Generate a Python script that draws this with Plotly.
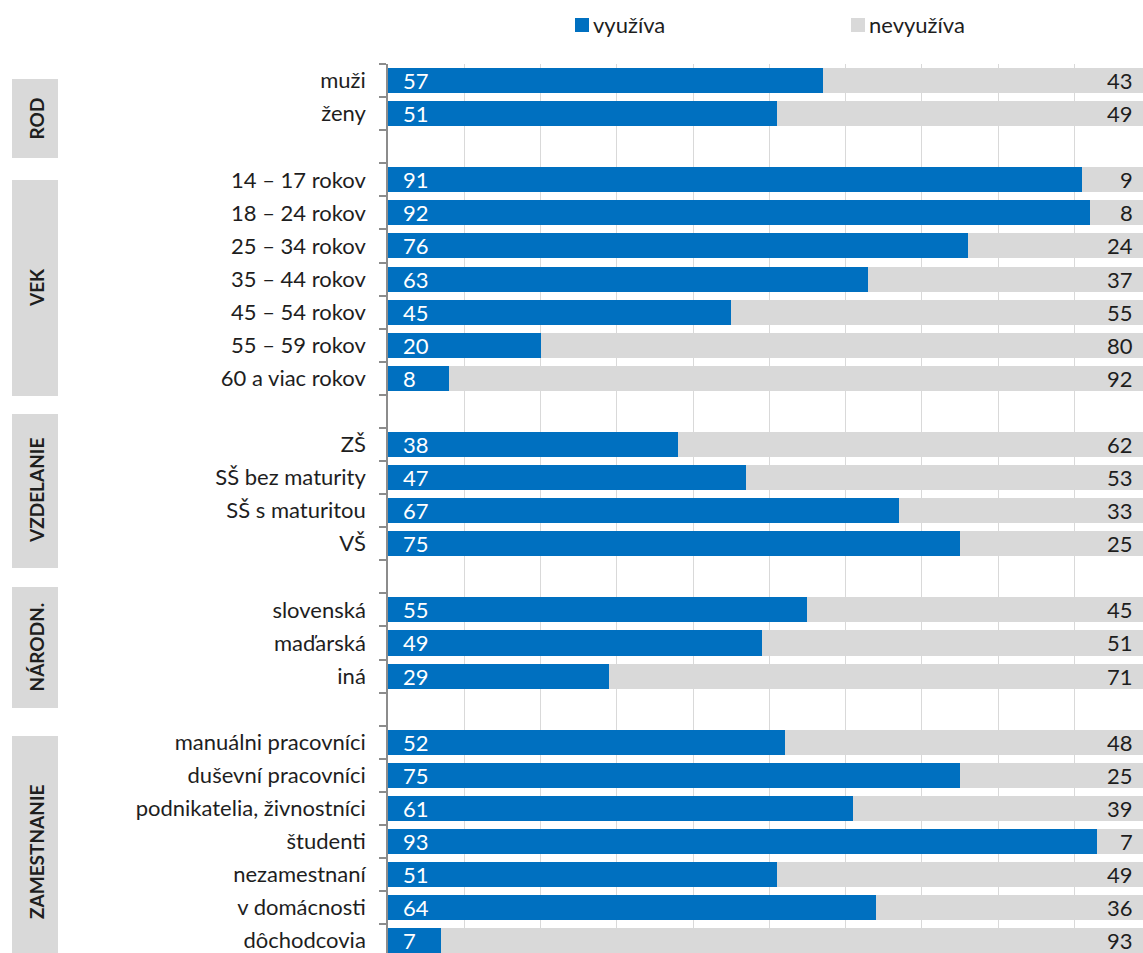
import plotly.graph_objects as go

# ---------------- data ----------------
categories = [
    "muži", "ženy", None,
    "14 – 17 rokov", "18 – 24 rokov", "25 – 34 rokov", "35 – 44 rokov",
    "45 – 54 rokov", "55 – 59 rokov", "60 a viac rokov", None,
    "ZŠ", "SŠ bez maturity", "SŠ s maturitou", "VŠ", None,
    "slovenská", "maďarská", "iná", None,
    "manuálni pracovníci", "duševní pracovníci", "podnikatelia, živnostníci",
    "študenti", "nezamestnaní", "v domácnosti", "dôchodcovia",
]
vyuziva = [57, 51, None, 91, 92, 76, 63, 45, 20, 8, None, 38, 47, 67, 75, None,
           55, 49, 29, None, 52, 75, 61, 93, 51, 64, 7]
nevyuziva = [43, 49, None, 9, 8, 24, 37, 55, 80, 92, None, 62, 53, 33, 25, None,
             45, 51, 71, None, 48, 25, 39, 7, 49, 36, 93]
series_names = ["využíva", "nevyužíva"]
groups = ["ROD", "VEK", "VZDELANIE", "NÁRODN.", "ZAMESTNANIE"]

BLUE = "#0070C0"
GRAY = "#D9D9D9"
TXT = "#1e1e1e"
FONT = "Lato"

W, H = 1143, 953
ML, MT = 388, 64


def px_x(px):
    return (px - ML) / (W - ML)


def px_y(py):
    return 1 - (py - MT) / (H - MT)


rows = list(range(len(categories)))
label_rows = [r for r, c in zip(rows, categories) if c is not None]
label_text = [c for c in categories if c is not None]
boundaries = [r - 0.5 for r in rows] + [rows[-1] + 0.5]

fig = go.Figure()
fig.add_trace(go.Bar(y=rows, x=vyuziva, orientation="h", name=series_names[0],
                     marker=dict(color=BLUE, line=dict(width=0)), showlegend=False,
                     hovertext=categories, hoverinfo="x+text"))
fig.add_trace(go.Bar(y=rows, x=nevyuziva, orientation="h", name=series_names[1],
                     marker=dict(color=GRAY, line=dict(width=0)), showlegend=False,
                     hovertext=categories, hoverinfo="x+text"))

annotations = []
for r, v, n in zip(rows, vyuziva, nevyuziva):
    if v is None:
        continue
    annotations.append(dict(x=0, y=r, xref="x", yref="y", text=str(v),
                            xanchor="left", yanchor="middle", xshift=13, showarrow=False,
                            font=dict(family=FONT, size=22, color="white")))
    annotations.append(dict(x=1, y=r, xref="paper", yref="y", text=str(n),
                            xanchor="right", yanchor="middle", xshift=-8, showarrow=False,
                            font=dict(family=FONT, size=22, color=TXT)))

# group boxes (pixel extents in page)
box_px = [(79, 158), (180, 396), (414, 568), (587, 708), (736, 968)]
shapes = []
for g, (y0, y1) in zip(groups, box_px):
    shapes.append(dict(type="rect", xref="paper", yref="paper",
                       x0=px_x(12), x1=px_x(58), y0=px_y(y1), y1=px_y(y0),
                       fillcolor=GRAY, line=dict(width=0), layer="below"))
    annotations.append(dict(x=px_x(36), y=px_y((y0 + y1) / 2), xref="paper", yref="paper",
                            text="<b>%s</b>" % g, textangle=-90, showarrow=False,
                            xanchor="center", yanchor="middle",
                            font=dict(family=FONT, size=19, color=TXT)))

# legend
leg = [(575, 589, BLUE, series_names[0]), (851, 865, GRAY, series_names[1])]
for x0, x1, col, name in leg:
    shapes.append(dict(type="rect", xref="paper", yref="paper",
                       x0=px_x(x0), x1=px_x(x1), y0=px_y(32), y1=px_y(18),
                       fillcolor=col, line=dict(width=0)))
    annotations.append(dict(x=px_x(x1 + 2), y=px_y(25), xref="paper", yref="paper",
                            text=name, showarrow=False, xanchor="left", yanchor="middle",
                            font=dict(family=FONT, size=22, color=TXT)))

fig.update_layout(
    width=W, height=H,
    margin=dict(l=ML, r=0, t=MT, b=0, pad=0),
    barmode="stack", bargap=0.244,
    plot_bgcolor="white", paper_bgcolor="white",
    showlegend=False,
    shapes=shapes, annotations=annotations,
    font=dict(family=FONT, size=22, color=TXT),
)
fig.update_xaxes(range=[0, 99.0], showticklabels=False, ticks="", dtick=10,
                 showgrid=True, gridcolor="#D9D9D9", gridwidth=1, zeroline=False,
                 showline=False, fixedrange=True)
fig.update_yaxes(range=[26.37, -0.5], showgrid=False, zeroline=False,
                 showline=True, linecolor="#8c8c8c", linewidth=1.5,
                 tickmode="array", tickvals=label_rows, ticktext=label_text,
                 ticks="", ticklabelstandoff=16, ticklabeloverflow="allow",
                 minor=dict(tickmode="array", tickvals=boundaries, ticks="outside",
                            ticklen=7, tickcolor="#8c8c8c", tickwidth=1.5, showgrid=False),
                 tickfont=dict(family=FONT, size=22, color=TXT), fixedrange=True)

fig.write_html("out.html")
